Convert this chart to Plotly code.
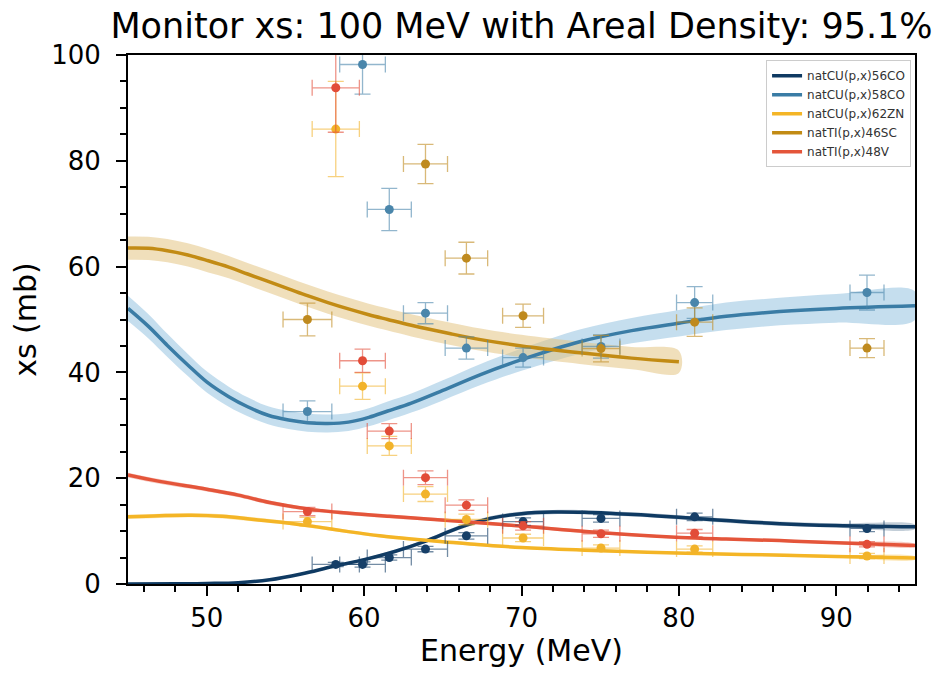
import plotly.graph_objects as go

# ---- measured monitor cross sections (mb) at the beam energies (MeV) ----
BEAM_E = [56.4, 58.2, 59.9, 61.6, 63.9, 66.5, 70.1, 75.05, 81.0, 91.95]
BEAM_DE = [1.55, 1.5, 1.45, 1.4, 1.4, 1.35, 1.3, 1.2, 1.15, 1.08]

XS_56CO = [None, 3.7, 3.7, 5.0, 6.6, 9.1, 11.8, 12.4, 12.7, 10.5]
ERR_56CO = [None, 0.4, 0.5, 0.5, 0.5, 0.6, 0.7, 0.7, 0.7, 0.6]

XS_58CO = [32.6, None, 98.2, 70.8, 51.2, 44.6, 42.8, 44.9, 53.2, 55.1]
ERR_58CO = [2.0, None, 5.6, 4.0, 2.0, 2.1, 1.8, 2.2, 3.0, 3.3]

XS_62ZN = [11.8, 86.0, 37.4, 26.1, 17.0, 12.2, 8.7, 6.8, 6.6, 5.3]
ERR_62ZN = [0.8, 9.0, 2.5, 1.8, 1.4, 1.0, 0.7, 0.6, 0.6, 0.5]

XS_46SC = [50.0, None, None, None, 79.4, 61.6, 50.7, 44.5, 49.5, 44.6]
ERR_46SC = [3.1, None, None, None, 3.7, 3.0, 2.2, 2.5, 2.7, 1.8]

XS_48V = [13.7, 93.8, 42.2, 28.9, 20.1, 14.9, 11.0, 9.5, 9.6, 7.5]
ERR_48V = [0.8, 8.4, 2.2, 1.4, 1.3, 1.0, 0.8, 0.7, 0.7, 0.5]

# ---- reference excitation functions with their 1-sigma bands ----
CURVE_E_56CO = [45, 48, 50, 52, 54, 56, 58, 60, 62, 64, 66, 68, 70, 72, 74, 76, 78, 80, 83, 86.4, 90, 95]
CURVE_56CO = [0.0, 0.03, 0.1, 0.25, 0.8, 1.9, 3.3, 4.6, 6.2, 8.2, 10.6, 12.4, 13.3, 13.6, 13.55, 13.3, 13.0, 12.6, 12.0, 11.4, 11.05, 10.8]
SIG_56CO = [0.05, 0.05, 0.05, 0.05, 0.1, 0.15, 0.2, 0.25, 0.3, 0.35, 0.4, 0.4, 0.4, 0.4, 0.4, 0.4, 0.4, 0.4, 0.4, 0.4, 0.4, 0.4]

CURVE_E_58CO = [45, 46.3, 47.5, 48.8, 50, 51.4, 52.6, 53.9, 55.2, 56.4, 57.7, 59, 60.3, 61.5, 63, 65, 67.4, 70, 73.7, 77, 80, 83, 86.4, 90, 95]
CURVE_58CO = [52.1, 48.7, 45.1, 41.4, 38.2, 35.4, 33.5, 31.9, 31.0, 30.5, 30.35, 30.6, 31.5, 32.7, 34.2, 36.6, 39.6, 42.4, 45.8, 47.9, 49.3, 50.6, 51.5, 52.1, 52.6]
SIG_58CO = [2.4, 2.3, 2.2, 2.1, 2.0, 1.9, 1.8, 1.7, 1.7, 1.7, 1.7, 1.7, 1.7, 1.8, 1.8, 1.9, 2.0, 2.1, 2.3, 2.4, 2.5, 2.6, 2.6, 2.7, 2.7]

CURVE_E_62ZN = [45, 47, 49, 51, 53, 55, 57, 59, 61, 63, 65, 67, 70, 74, 78, 82, 86, 90, 95]
CURVE_62ZN = [12.7, 12.9, 13.0, 12.8, 12.2, 11.6, 10.8, 9.9, 9.1, 8.5, 8.0, 7.5, 6.9, 6.4, 6.0, 5.7, 5.5, 5.2, 4.9]
SIG_62ZN = [0.4, 0.4, 0.4, 0.4, 0.4, 0.35, 0.35, 0.3, 0.3, 0.3, 0.3, 0.3, 0.25, 0.25, 0.25, 0.25, 0.25, 0.25, 0.25]

CURVE_E_46SC = [45, 46.3, 47.5, 48.8, 50.1, 51.4, 52.6, 53.9, 55.2, 56.4, 57.7, 59, 60.3, 61.5, 63, 65.5, 67.4, 70, 73.7, 77, 80]
CURVE_46SC = [63.5, 63.45, 63.0, 62.2, 61.1, 59.9, 58.6, 57.2, 55.8, 54.5, 53.2, 52.0, 50.9, 50.0, 48.9, 47.3, 46.2, 45.0, 43.7, 42.7, 42.0]
SIG_46SC = [2.2, 2.2, 2.2, 2.2, 2.2, 2.1, 2.1, 2.1, 2.1, 2.1, 2.1, 2.1, 2.1, 2.1, 2.1, 2.1, 2.1, 2.1, 2.1, 2.1, 2.1]

CURVE_E_48V = [45, 47, 50, 52, 54, 56.4, 58.5, 61.6, 64, 66.7, 70.6, 73.7, 77, 80.1, 83, 86.4, 90, 95]
CURVE_48V = [20.6, 19.4, 17.9, 16.8, 15.4, 14.2, 13.5, 12.8, 12.3, 11.7, 10.8, 10.0, 9.3, 8.8, 8.5, 8.2, 7.8, 7.3]
SIG_48V = [0.45, 0.45, 0.4, 0.4, 0.4, 0.35, 0.35, 0.35, 0.3, 0.3, 0.3, 0.3, 0.25, 0.25, 0.25, 0.25, 0.25, 0.25]

REACTIONS = [
    # name, curve E, curve, sigma, points, point errors, line colour, band colour, point colour
    ("natCU(p,x)56CO", CURVE_E_56CO, CURVE_56CO, SIG_56CO, XS_56CO, ERR_56CO,
     "#0f3a62", "rgba(15,58,98,0.25)", "#163f68"),
    ("natCU(p,x)58CO", CURVE_E_58CO, CURVE_58CO, SIG_58CO, XS_58CO, ERR_58CO,
     "#3a7ca5", "rgba(150,195,224,0.55)", "#4a86ab"),
    ("natCU(p,x)62ZN", CURVE_E_62ZN, CURVE_62ZN, SIG_62ZN, XS_62ZN, ERR_62ZN,
     "#f4b526", "rgba(244,181,38,0.3)", "#f2b32a"),
    ("natTI(p,x)46SC", CURVE_E_46SC, CURVE_46SC, SIG_46SC, XS_46SC, ERR_46SC,
     "#c28b14", "rgba(228,196,132,0.55)", "#bf8a1e"),
    ("natTI(p,x)48V", CURVE_E_48V, CURVE_48V, SIG_48V, XS_48V, ERR_48V,
     "#e4553a", "rgba(228,85,58,0.3)", "#e24c38"),
]


def rgba(hex_colour, alpha):
    h = hex_colour.lstrip("#")
    r, g, b = int(h[0:2], 16), int(h[2:4], 16), int(h[4:6], 16)
    return f"rgba({r},{g},{b},{alpha})"


fig = go.Figure()

# uncertainty bands
for name, ce, cv, sg, _, _, lc, bc, _ in REACTIONS:
    upper = [v + s for v, s in zip(cv, sg)]
    lower = [v - s for v, s in zip(cv, sg)]
    fig.add_trace(go.Scatter(
        x=ce + ce[::-1], y=upper + lower[::-1], mode="lines",
        line=dict(width=0, shape="spline", smoothing=1.0), fill="toself",
        fillcolor=bc, hoverinfo="skip", showlegend=False))

# excitation function lines
for name, ce, cv, sg, _, _, lc, bc, _ in REACTIONS:
    fig.add_trace(go.Scatter(
        x=ce, y=cv, mode="lines", name=name,
        line=dict(color=lc, width=3.5, shape="spline", smoothing=1.0)))

# measured points with energy and cross-section uncertainties
for name, _, _, _, xs, err, lc, bc, pc in REACTIONS:
    px, py, pdx, pdy = [], [], [], []
    for e, de, v, dv in zip(BEAM_E, BEAM_DE, xs, err):
        if v is None:
            continue
        px.append(e)
        py.append(v)
        pdx.append(de)
        pdy.append(dv)
    fig.add_trace(go.Scatter(
        x=px, y=py, mode="markers", showlegend=False,
        marker=dict(color=pc, size=9),
        error_x=dict(type="data", array=pdx, color=rgba(pc, 0.6), thickness=1.3, width=8),
        error_y=dict(type="data", array=pdy, color=rgba(pc, 0.6), thickness=1.3, width=8)))

axis_common = dict(
    showline=True, linecolor="black", linewidth=2, mirror=True,
    ticks="outside", ticklen=10, tickwidth=2, tickcolor="black",
    showgrid=False, zeroline=False,
    tickfont=dict(family="DejaVu Sans", size=26, color="black"),
)

fig.update_xaxes(
    range=[45, 95], dtick=10, tick0=0,
    minor=dict(ticks="outside", ticklen=6, tickwidth=1.5, tickcolor="black", dtick=2, tick0=0),
    title=dict(text="Energy (MeV)", font=dict(family="DejaVu Sans", size=30, color="black"), standoff=6),
    **axis_common)
fig.update_yaxes(
    range=[0, 100], dtick=20, tick0=0, ticklabelstandoff=10,
    minor=dict(ticks="outside", ticklen=6, tickwidth=1.5, tickcolor="black", dtick=5, tick0=0),
    title=dict(text="xs (mb)", font=dict(family="DejaVu Sans", size=30, color="black"), standoff=6),
    **axis_common)

fig.update_layout(
    width=940, height=674,
    margin=dict(l=128, r=25, t=55, b=90),
    paper_bgcolor="white", plot_bgcolor="white",
    title=dict(text="Monitor xs: 100 MeV with Areal Density: 95.1%",
               font=dict(family="DejaVu Sans", size=35, color="black"),
               x=0.5, xref="paper", xanchor="center",
               y=0.962, yref="container", yanchor="middle"),
    legend=dict(x=0.995, y=0.99, xanchor="right", yanchor="top",
                bgcolor="rgba(255,255,255,0.85)", bordercolor="#cccccc", borderwidth=1,
                font=dict(family="DejaVu Sans", size=12, color="#333333"),
                tracegroupgap=0, itemwidth=30),
    showlegend=True,
)

fig.write_html("out.html")
